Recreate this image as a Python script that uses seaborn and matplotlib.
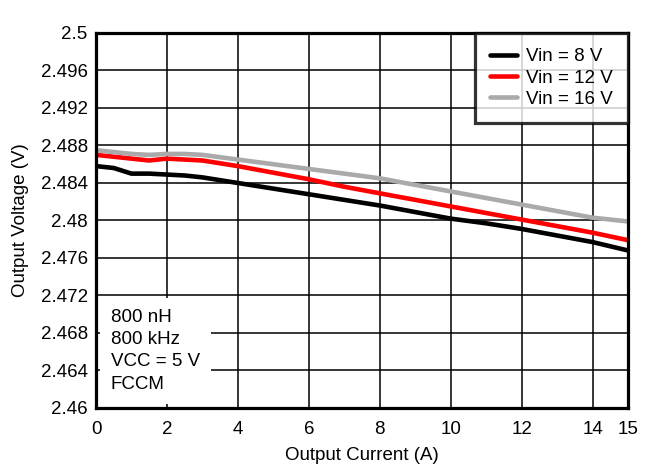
import numpy as np
import pandas as pd
import matplotlib
matplotlib.use('Agg')
import matplotlib.pyplot as plt
import seaborn as sns

# Datos
corriente = [0, 0.25, 0.5, 0.75, 1, 1.5, 2, 2.5, 3, 4, 5, 6, 7, 8, 9, 10, 11, 12, 13, 14, 15]
vout_8v = [2.4858, 2.4857, 2.4856, 2.4853, 2.4850, 2.4850, 2.4849, 2.4848, 2.4846, 2.4840, 2.4834,
           2.4828, 2.4822, 2.4816, 2.4809, 2.4802, 2.4797, 2.4791, 2.4784, 2.4777, 2.4768]
vout_12v = [2.4870, 2.4869, 2.4868, 2.4867, 2.4866, 2.4864, 2.4866, 2.4865, 2.4864, 2.4858, 2.4851,
            2.4844, 2.4836, 2.4829, 2.4822, 2.4815, 2.4808, 2.4801, 2.4794, 2.4787, 2.4779]
vout_16v = [2.4875, 2.4874, 2.4873, 2.4872, 2.4871, 2.4870, 2.4871, 2.4871, 2.4870, 2.4865, 2.4860,
            2.4855, 2.4850, 2.4845, 2.4838, 2.4831, 2.4824, 2.4817, 2.4810, 2.4803, 2.4799]
series = ['Vin = 8 V', 'Vin = 12 V', 'Vin = 16 V']
colores = ['#000000', '#ff0000', '#aaaaaa']
x_ticks = [0, 2, 4, 6, 8, 10, 12, 14, 15]
y_ticks = [2.46, 2.464, 2.468, 2.472, 2.476, 2.48, 2.484, 2.488, 2.492, 2.496, 2.5]
y_tick_labels = ['2.46', '2.464', '2.468', '2.472', '2.476', '2.48', '2.484', '2.488', '2.492', '2.496', '2.5']
nota = '800 nH\n800 kHz\nVCC = 5 V\nFCCM'

df = pd.concat([
    pd.DataFrame({'Corriente': corriente, 'Voltaje': v, 'Serie': s})
    for v, s in zip([vout_8v, vout_12v, vout_16v], series)
])

sns.set_style('white')
plt.rcParams['font.family'] = ['Liberation Sans', 'DejaVu Sans']
plt.rcParams['text.color'] = 'black'
plt.rcParams['axes.labelcolor'] = 'black'

fs = 13.5
fig = plt.figure(figsize=(6.57, 4.75), dpi=100)
ax = fig.add_axes([96 / 657, 1 - 408 / 475, 532 / 657, 375 / 475])

sns.lineplot(data=df, x='Corriente', y='Voltaje', hue='Serie', hue_order=series,
             palette=colores, linewidth=3.3, ax=ax, zorder=3)

ax.set_xlim(0, 15)
ax.set_ylim(2.46, 2.5)
ax.set_xticks(x_ticks)
ax.set_xticklabels([str(t) for t in x_ticks])
ax.set_yticks(y_ticks)
ax.set_yticklabels(y_tick_labels)
ax.tick_params(length=0, labelsize=fs, colors='black')
ax.tick_params(axis='y', pad=6)
ax.tick_params(axis='x', pad=9)
ax.grid(True, color='black', linewidth=1.1)
ax.set_axisbelow(True)
for sp in ax.spines.values():
    sp.set_color('black')
    sp.set_linewidth(2.3)
    sp.set_zorder(6)

ax.set_xlabel('Output Current (A)', fontsize=fs, labelpad=7)
ax.set_ylabel('Output Voltage (V)', fontsize=fs, labelpad=8)

# Leyenda
leg = ax.legend(loc='upper right', fontsize=fs, frameon=True, fancybox=False, borderaxespad=0,
                handlelength=1.45, handletextpad=0.5, borderpad=0.8, labelspacing=0.23)
leg.get_frame().set_edgecolor('black')
leg.get_frame().set_linewidth(2.3)
leg.set_zorder(7)
for linea in leg.get_lines():
    linea.set_linewidth(3.3)

# Texto de condiciones
ax.text(15 / 532, (408 - 309) / 375, nota, transform=ax.transAxes, fontsize=fs, va='top', ha='left',
        linespacing=1.4, zorder=5, bbox=dict(facecolor='white', edgecolor='none', pad=8))

plt.savefig('out.png', dpi=100)
